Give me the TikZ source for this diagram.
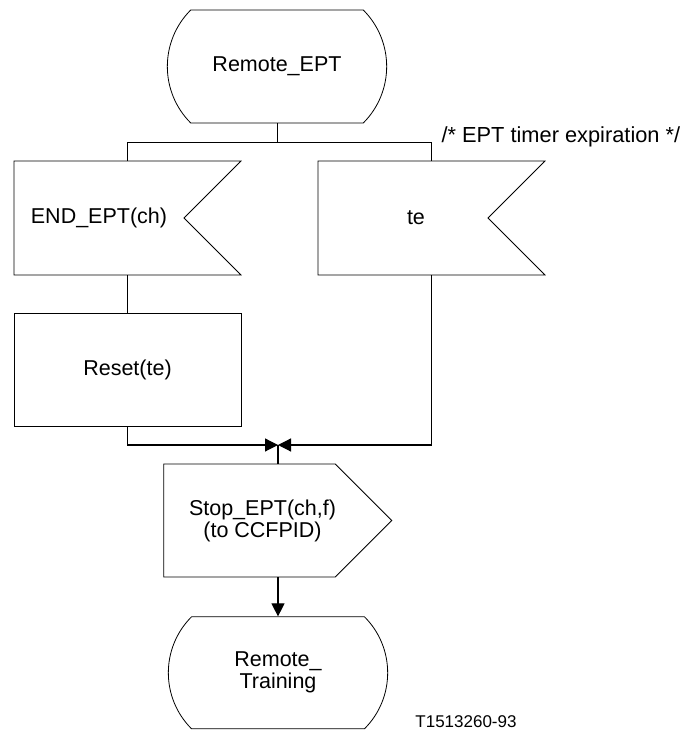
\documentclass[tikz,border=0pt]{standalone}
\usepackage{fontspec}
\setmainfont{Liberation Sans}
\usetikzlibrary{shapes.misc, shapes.symbols, arrows.meta, positioning}
\tikzset{
  statebox/.style={
    draw, rounded rectangle, rounded rectangle arc length=90,
    minimum width=226pt, minimum height=113pt, line width=0.8pt,
    font=\fontsize{21.5}{22}\selectfont, align=center
  },
  inputbox/.style={
    draw, signal, signal to=nowhere, signal from=east, signal pointer angle=90,
    minimum width=227pt, minimum height=114pt, line width=0.8pt,
    font=\fontsize{21.5}{22}\selectfont, align=center
  },
  outputbox/.style={
    draw, signal, signal to=east, signal from=nowhere, signal pointer angle=90,
    minimum width=228pt, minimum height=113pt, line width=0.8pt,
    font=\fontsize{21.5}{22}\selectfont, align=center
  },
  taskbox/.style={
    draw, rectangle, minimum width=227pt, minimum height=113pt,
    line width=0.8pt, font=\fontsize{21.5}{22}\selectfont, align=center
  },
  line/.style={line width=0.8pt},
  arrow/.style={line width=1.2pt, -{Triangle[length=13pt,width=13pt]}},
}
% move text a bit to the right inside a signal body
\newcommand{\nudge}[1]{\kern13pt#1\kern-13pt}

\begin{document}
\begin{tikzpicture}[x=1pt, y=1pt]
  \useasboundingbox (0,0) rectangle (690,735);

  %%% States %%%
  \node[statebox] (start) at (277,668.5) {Remote\_EPT};

  %%% Inputs %%%
  \node[inputbox] (endept) at (99,517) {END\_EPT(ch)};
  \node[inputbox, right=133pt of endept] (te) {\nudge{te}};
  \node[anchor=base west, font=\fontsize{21.8}{25}\selectfont] (comment)
    at (438,592) {/* EPT timer expiration */};

  %%% Task %%%
  \node[taskbox, below=38pt of endept, xshift=28.5pt] (reset) {Reset(te)};

  %%% Output %%%
  \node[outputbox] (stop) at (249.5,214.5)
    {\nudge{Stop\_EPT(ch,f)}\\\nudge{(to CCFPID)}};

  \node[statebox, minimum height=112pt, below=39pt of stop, xshift=28.5pt]
    (training) {Remote\_\\Training};

  \node[font=\fontsize{17}{20}\selectfont] (fignum) at (466,13) {T1513260-93};

  %%% Connectors %%%
  \coordinate (split) at (277,593);
  \coordinate (merge) at (278,290);
  \draw[line] (start.south) -- (split);
  \draw[line] ([xshift=28.5pt]endept.north) |- (split)
    -| ([xshift=28.5pt]te.north);
  \draw[line] ([xshift=28.5pt]endept.south) -- (reset.north);
  \draw[arrow] (reset.south) |- (merge);
  \draw[arrow] ([xshift=28.5pt]te.south) |- (merge);
  \draw[line width=1.2pt] (merge) -- ([xshift=28.5pt]stop.north);
  \draw[arrow] ([xshift=28.5pt]stop.south) -- (training.north);

\end{tikzpicture}
\end{document}
